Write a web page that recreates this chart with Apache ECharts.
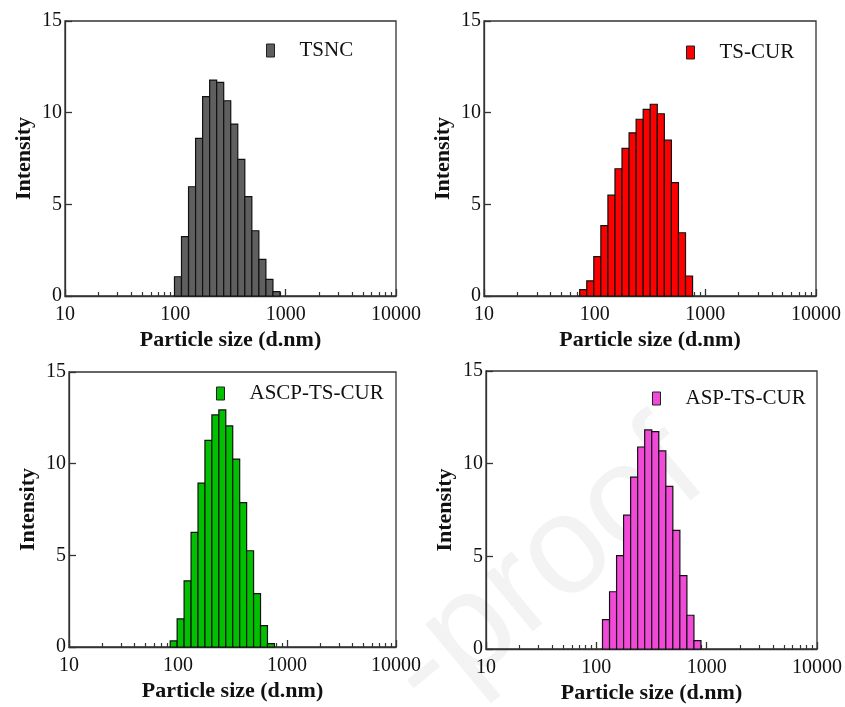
<!DOCTYPE html>
<html>
<head>
<meta charset="utf-8">
<script src="https://cdn.jsdelivr.net/npm/echarts@6/dist/echarts.min.js"></script>
<style>
  html, body { margin: 0; padding: 0; background: #fff; }
  #chart { width: 845px; height: 707px; }
</style>
</head>
<body>
<div id="chart"></div>
<script>
// DLS size bins (d.nm) and intensity (%) per sample
var sizesTSNC = [105.7, 122.4, 141.8, 164.2, 190.1, 220.2, 255.0, 295.3, 342.0, 396.1, 458.7, 531.2, 615.1, 712.4, 825.0];
var intensTSNC = [1.05, 3.24, 5.96, 8.6, 10.87, 11.78, 11.65, 10.65, 9.38, 7.45, 5.42, 3.56, 2.0, 0.91, 0.24];

var sizesTSCUR = [78.82, 91.28, 105.7, 122.4, 141.8, 164.2, 190.1, 220.2, 255.0, 295.3, 342.0, 396.1, 458.7, 531.2, 615.1, 712.4];
var intensTSCUR = [0.35, 0.83, 2.15, 3.84, 5.5, 6.94, 8.05, 8.9, 9.64, 10.18, 10.46, 9.94, 8.5, 6.18, 3.45, 1.09];

var sizesASCP = [91.28, 105.7, 122.4, 141.8, 164.2, 190.1, 220.2, 255.0, 295.3, 342.0, 396.1, 458.7, 531.2, 615.1, 712.4];
var intensASCP = [0.33, 1.53, 3.61, 6.25, 8.94, 11.27, 12.66, 12.93, 12.06, 10.25, 7.87, 5.25, 2.91, 1.17, 0.18];

var sizesASP = [122.4, 141.8, 164.2, 190.1, 220.2, 255.0, 295.3, 342.0, 396.1, 458.7, 531.2, 615.1, 712.4, 825.0];
var intensASP = [1.58, 3.09, 5.04, 7.22, 9.27, 10.9, 11.82, 11.73, 10.69, 8.78, 6.4, 3.96, 1.82, 0.45];

var names = ["TSNC", "TS-CUR", "ASCP-TS-CUR", "ASP-TS-CUR"];
var colors = ["#5f5f5f", "#ff0000", "#00c000", "#f24ad8"];
var majorTicks = [10, 100, 1000, 10000];
var minorTicks = [20, 30, 40, 50, 60, 70, 80, 90, 200, 300, 400, 500, 600, 700, 800, 900, 2000, 3000, 4000, 5000, 6000, 7000, 8000, 9000];

var allSizes = [sizesTSNC, sizesTSCUR, sizesASCP, sizesASP];
var allIntens = [intensTSNC, intensTSCUR, intensASCP, intensASP];

var grids = [
  { left: 65, top: 21, width: 331, height: 275 },
  { left: 484, top: 21, width: 332, height: 275 },
  { left: 69, top: 372, width: 327, height: 275 },
  { left: 486, top: 371, width: 332, height: 278 }
];
var legendPos = [
  { left: 266, top: 40 },
  { left: 686, top: 42 },
  { left: 216, top: 383 },
  { left: 652, top: 388 }
];

var FONT = "'Liberation Serif', 'Times New Roman', serif";
var chart = echarts.init(document.getElementById("chart"));

function makeRender(sizes) {
  var half = Math.sqrt(sizes[1] / sizes[0]);
  return function (params, api) {
    var x = api.value(0), y = api.value(1);
    var p0 = api.coord([x / half, 0]);
    var p1 = api.coord([x * half, y]);
    return {
      type: "rect",
      shape: { x: p0[0], y: p1[1], width: p1[0] - p0[0], height: p0[1] - p1[1] },
      style: api.style({ stroke: "#111", lineWidth: 1.2 })
    };
  };
}

var xAxes = [], yAxes = [], series = [], legends = [];
grids.forEach(function (g, i) {
  g.show = true;
  g.borderColor = "#333";
  g.borderWidth = 1.3;
  xAxes.push({
    type: "log", logBase: 10, gridIndex: i, min: 10, max: 10000, position: "bottom",
    name: "Particle size (d.nm)", nameLocation: "middle", nameGap: 33,
    nameTextStyle: { fontFamily: FONT, fontWeight: "bold", fontSize: 22, color: "#111" },
    axisLine: { lineStyle: { color: "#333", width: 1.3 } },
    axisTick: { inside: true, length: 7, customValues: majorTicks, lineStyle: { color: "#333", width: 1.3 } },
    axisLabel: {
      customValues: majorTicks, fontFamily: FONT, fontSize: 20, color: "#111", margin: 9,
      formatter: function (v) { return String(Math.round(v)); }
    },
    splitLine: { show: false }
  });
  xAxes.push({
    type: "log", logBase: 10, gridIndex: i, min: 10, max: 10000, position: "bottom", offset: 0,
    axisLine: { show: false },
    axisTick: { inside: true, length: 4, customValues: minorTicks, lineStyle: { color: "#333", width: 1.2 } },
    axisLabel: { show: false },
    splitLine: { show: false }
  });
  yAxes.push({
    type: "value", gridIndex: i, min: 0, max: 15, interval: 5,
    name: "Intensity", nameLocation: "middle", nameGap: 30,
    nameTextStyle: { fontFamily: FONT, fontWeight: "bold", fontSize: 22, color: "#111" },
    axisLine: { show: true, lineStyle: { color: "#333", width: 1.3 } },
    axisTick: { show: true, inside: true, length: 7, lineStyle: { color: "#333", width: 1.3 } },
    axisLabel: { fontFamily: FONT, fontSize: 20, color: "#111", margin: 3 },
    splitLine: { show: false }
  });
  series.push({
    type: "custom", name: names[i], xAxisIndex: i * 2, yAxisIndex: i,
    coordinateSystem: "cartesian2d",
    itemStyle: { color: colors[i] },
    encode: { x: 0, y: 1 },
    renderItem: makeRender(allSizes[i]),
    data: allSizes[i].map(function (s, k) { return [s, allIntens[i][k]]; }),
    z: 3
  });
  legends.push({
    data: [{ name: names[i], icon: "rect" }],
    left: legendPos[i].left, top: legendPos[i].top, padding: 0,
    itemWidth: 8, itemHeight: 13,
    itemStyle: { borderColor: "#222", borderWidth: 1 },
    textStyle: { fontFamily: FONT, fontSize: 21, color: "#111", padding: [0, 0, 0, 20] },
    selectedMode: false
  });
});

chart.setOption({
  animation: false,
  backgroundColor: "#fff",
  grid: grids,
  xAxis: xAxes,
  yAxis: yAxes,
  legend: legends,
  series: series,
  graphic: [{
    type: "text", left: 360, top: 400, rotation: Math.PI * 0.22, z: -1,
    style: { text: "-proof", font: "140px 'Liberation Sans', sans-serif", fill: "rgba(200,200,200,0.22)" }
  }]
});
</script>
</body>
</html>
